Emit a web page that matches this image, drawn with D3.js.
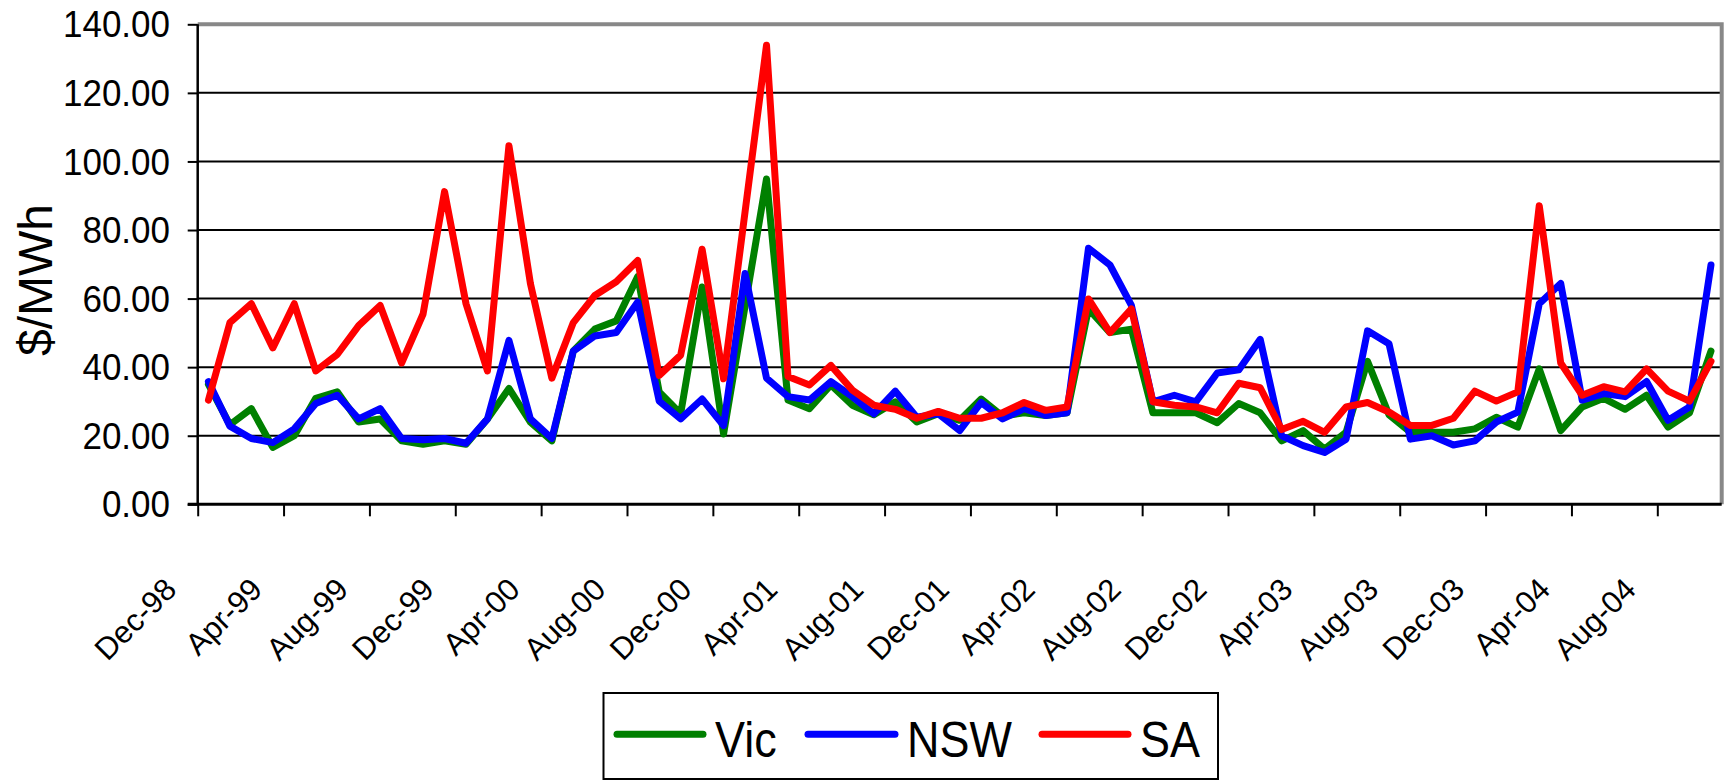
<!DOCTYPE html>
<html>
<head>
<meta charset="utf-8">
<script src="https://cdn.jsdelivr.net/npm/d3@7"></script>
<style>
  html, body { margin: 0; padding: 0; background: #fff; }
  svg { display: block; font-family: "Liberation Sans", Arial, sans-serif; }
</style>
</head>
<body>
<svg id="chart" width="1729" height="780"></svg>
<script>
const categories = [
  "Dec-98",
  "Jan-99","Feb-99","Mar-99","Apr-99","May-99","Jun-99","Jul-99","Aug-99","Sep-99","Oct-99","Nov-99","Dec-99",
  "Jan-00","Feb-00","Mar-00","Apr-00","May-00","Jun-00","Jul-00","Aug-00","Sep-00","Oct-00","Nov-00","Dec-00",
  "Jan-01","Feb-01","Mar-01","Apr-01","May-01","Jun-01","Jul-01","Aug-01","Sep-01","Oct-01","Nov-01","Dec-01",
  "Jan-02","Feb-02","Mar-02","Apr-02","May-02","Jun-02","Jul-02","Aug-02","Sep-02","Oct-02","Nov-02","Dec-02",
  "Jan-03","Feb-03","Mar-03","Apr-03","May-03","Jun-03","Jul-03","Aug-03","Sep-03","Oct-03","Nov-03","Dec-03",
  "Jan-04","Feb-04","Mar-04","Apr-04","May-04","Jun-04","Jul-04","Aug-04","Sep-04","Oct-04"
];
const tickLabels = ["Dec-98","Apr-99","Aug-99","Dec-99","Apr-00","Aug-00","Dec-00","Apr-01","Aug-01",
  "Dec-01","Apr-02","Aug-02","Dec-02","Apr-03","Aug-03","Dec-03","Apr-04","Aug-04"];
const yTicks = [0, 20, 40, 60, 80, 100, 120, 140];

const vic = [35.0,23.2,27.9,16.6,20.0,30.9,32.8,24.0,24.9,18.5,17.5,18.5,17.5,24.9,33.8,24.0,18.5,44.7,51.1,53.5,
  66.4,32.8,26.4,63.4,20.5,57.8,94.9,30.4,27.9,34.8,28.9,26.1,29.9,24.0,26.4,24.5,30.7,25.7,26.7,25.9,
  26.7,57.0,50.1,51.1,26.7,26.7,26.7,23.8,29.4,26.7,18.5,21.5,16.1,21.0,41.7,26.1,21.0,21.0,21.0,22.0,
  25.4,22.5,39.5,21.5,28.4,30.9,27.7,31.8,22.5,26.7,44.7];
const nsw = [35.8,22.8,19.2,18.0,22.0,29.4,31.8,24.9,27.9,19.2,18.8,19.2,17.8,24.9,47.8,24.9,19.2,44.7,49.1,50.1,
  59.0,30.1,24.9,30.7,23.0,67.3,36.8,31.4,30.4,35.8,31.4,26.4,33.0,25.4,26.4,21.5,29.7,24.9,27.9,25.9,
  26.7,74.7,69.8,58.0,29.9,31.8,29.9,38.3,39.2,48.1,20.0,17.1,15.1,19.0,50.6,46.8,19.0,20.0,17.3,18.5,
  24.0,26.9,58.5,64.4,30.4,32.3,31.4,35.8,24.5,28.4,69.8];
const sa = [30.4,53.0,58.5,45.6,58.5,38.9,43.7,52.1,58.0,41.2,55.5,91.2,58.5,38.9,104.6,64.4,36.8,53.0,60.9,64.9,
  71.1,37.6,43.5,74.4,36.6,85.3,133.9,37.3,34.8,40.5,33.3,28.9,27.7,25.1,27.1,25.1,25.1,26.7,29.7,27.4,
  28.4,59.9,50.1,57.0,29.9,28.9,28.4,26.7,35.3,34.0,21.8,24.2,21.0,28.4,29.7,26.9,23.0,23.0,25.1,33.0,
  30.1,32.8,87.1,41.2,31.8,34.3,32.8,39.5,33.0,30.1,41.7];

const seriesNames = ["Vic", "NSW", "SA"];
const seriesColors = ["#008000", "#0000ff", "#ff0000"];
const seriesData = [vic, nsw, sa];

const L = 197.7, R = 1721.7, T = 24.3, B = 504.3;
const svg = d3.select("#chart");

const x = d3.scaleLinear().domain([0, categories.length]).range([L, R]);
const y = d3.scaleLinear().domain([0, 140]).range([B, T]);

// gridlines
svg.append("g").selectAll("line")
  .data(yTicks.filter(v => v > 0 && v < 140))
  .join("line")
  .attr("x1", L).attr("x2", R)
  .attr("y1", d => y(d)).attr("y2", d => y(d))
  .attr("stroke", "#000").attr("stroke-width", 2);

// plot border (gray top/right)
svg.append("path")
  .attr("d", `M${L},${y(140)} L${R},${y(140)} L${R},${B}`)
  .attr("fill", "none").attr("stroke", "#888").attr("stroke-width", 4);

// y axis
const yAxis = svg.append("g").attr("transform", `translate(${L},0)`)
  .call(d3.axisLeft(y).tickValues(yTicks).tickSize(10).tickFormat(d3.format(".2f")));
yAxis.select(".domain").remove();
yAxis.selectAll(".tick line").attr("stroke", "#000").attr("stroke-width", 2);
yAxis.selectAll(".tick text")
  .attr("x", 0).attr("y", 0).attr("dy", null)
  .attr("transform", "translate(-27.7,12.6) scale(1,1.07)")
  .attr("font-size", 35).attr("fill", "#000")
  .attr("font-family", "'Liberation Sans', Arial, sans-serif");
svg.append("line").attr("x1", L).attr("x2", L).attr("y1", y(140)).attr("y2", B)
  .attr("stroke", "#000").attr("stroke-width", 2.5);

// x axis
const tickIdx = tickLabels.map(l => categories.indexOf(l));
const xAxis = svg.append("g").attr("transform", `translate(0,${B})`)
  .call(d3.axisBottom(x).tickValues(tickIdx).tickSize(12).tickFormat(i => categories[i]));
xAxis.select(".domain").remove();
xAxis.selectAll(".tick line").attr("stroke", "#000").attr("stroke-width", 2);
xAxis.selectAll(".tick text")
  .attr("x", 0).attr("y", 0).attr("dy", null)
  .attr("transform", "translate(-20,87) rotate(-45)")
  .attr("text-anchor", "end")
  .attr("font-size", 31).attr("fill", "#000")
  .attr("font-family", "'Liberation Sans', Arial, sans-serif");
svg.append("line").attr("x1", L - 10).attr("x2", R).attr("y1", B).attr("y2", B)
  .attr("stroke", "#000").attr("stroke-width", 3);

// y title
svg.append("text")
  .attr("transform", "translate(52,280) rotate(-90)")
  .attr("text-anchor", "middle")
  .attr("font-size", 48).attr("fill", "#000")
  .text("$/MWh");

// lines
const line = d3.line().x((d, i) => x(i + 0.5)).y(d => y(d));
svg.append("g").selectAll("path")
  .data(seriesData)
  .join("path")
  .attr("d", d => line(d))
  .attr("fill", "none")
  .attr("stroke", (d, i) => seriesColors[i])
  .attr("stroke-width", 7)
  .attr("stroke-linejoin", "round")
  .attr("stroke-linecap", "round");

// legend
const legend = svg.append("g");
legend.append("rect")
  .attr("x", 603.5).attr("y", 693).attr("width", 614.5).attr("height", 86)
  .attr("fill", "#fff").attr("stroke", "#000").attr("stroke-width", 2);
const legItems = [
  { lx1: 617, lx2: 703, tx: 715 },
  { lx1: 808, lx2: 895, tx: 907 },
  { lx1: 1042, lx2: 1128, tx: 1140 }
];
legItems.forEach((it, i) => {
  legend.append("line")
    .attr("x1", it.lx1).attr("x2", it.lx2).attr("y1", 734.3).attr("y2", 734.3)
    .attr("stroke", seriesColors[i]).attr("stroke-width", 7).attr("stroke-linecap", "round");
  legend.append("text")
    .attr("transform", `translate(${it.tx},756.7) scale(1,1.12)`)
    .attr("font-size", 45).attr("fill", "#000")
    .text(seriesNames[i]);
});
</script>
</body>
</html>
